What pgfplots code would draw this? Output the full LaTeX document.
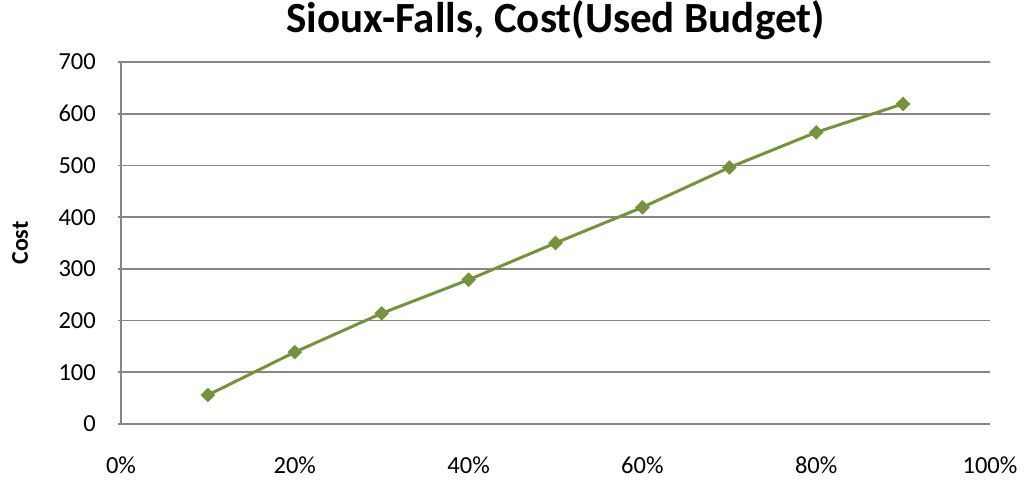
\documentclass[border=0pt]{standalone}
\usepackage{fontspec}
\setmainfont{Carlito}
\usepackage{pgfplots}
\pgfplotsset{compat=1.18}
\definecolor{linegreen}{RGB}{118,146,60}
\definecolor{gridgray}{RGB}{134,134,134}
\begin{document}
\begin{tikzpicture}
\useasboundingbox (-121pt,-59pt) rectangle (907pt,424pt);
\begin{axis}[
  at={(0pt,0pt)}, anchor=south west,
  scale only axis,
  width=869pt, height=362pt,
  xmin=0, xmax=100, ymin=0, ymax=700,
  xtick={0,20,40,60,80,100},
  xticklabels={0\%,20\%,40\%,60\%,80\%,100\%},
  ytick={0,100,...,700},
  axis x line*=bottom,
  axis y line*=left,
  axis line style={gridgray, line width=1.6pt, -},
  ymajorgrids,
  major grid style={gridgray, line width=1.6pt},
  major x tick style={draw=none},
  major y tick style={gridgray, line width=1.6pt},
  tick align=outside,
  major tick length=3pt,
  /pgf/number format/assume math mode=true,
  ticklabel style={font=\fontsize{24.5}{29}\selectfont, text=black},
  yticklabel style={anchor=east, inner sep=0pt, xshift=-22pt},
  xticklabel style={anchor=north, inner sep=0pt, yshift=-30pt},
  ylabel={Cost},
  ylabel style={font=\bfseries\fontsize{24}{28}\selectfont, anchor=center, at={(axis description cs:-0.1162,0.5)}},
  title={Sioux-Falls, Cost(Used Budget)},
  title style={font=\bfseries\fontsize{43}{50}\selectfont, anchor=base, at={(axis description cs:0.5,1.064)}},
]
\addplot[color=linegreen, line width=3pt, mark=square*, mark size=4.9pt,
  mark options={rotate=45, fill=linegreen, draw=linegreen, line width=0.5pt}]
  coordinates {
  (10,56) (20,139) (30,214) (40,279) (50,350) (60,419) (70,496) (80,564) (90,619)
};
\end{axis}
\end{tikzpicture}
\end{document}
